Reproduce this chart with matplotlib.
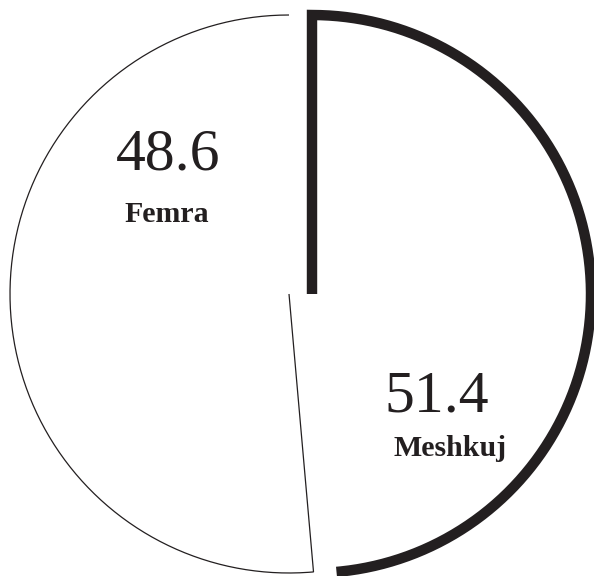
import numpy as np
import matplotlib
matplotlib.use('Agg')
import matplotlib.pyplot as plt
from matplotlib.path import Path
from matplotlib.patches import PathPatch

# Shares (%) and labels
labels = ['Meshkuj', 'Femra']
shares = [51.4, 48.6]
value_text = ['51.4', '48.6']

ink = '#231f20'
W, H = 594, 576

fig = plt.figure(figsize=(W / 100, H / 100), dpi=100)
ax = fig.add_axes([0, 0, 1, 1])
ax.set_xlim(0, W)
ax.set_ylim(0, H)
ax.axis('off')

r = 279

# The drawn wedges follow the source picture: the bold wedge sweeps the
# smaller share clockwise from the top, the thin wedge the rest.
bold_sweep = min(shares) / 100 * 360
thin_sweep = 360 - bold_sweep

# bold wedge: vertical edge + arc, no closing edge
cx, cy = 312, 282
t = np.radians(np.linspace(90, 90 - bold_sweep, 200))
xs = np.concatenate([[cx], cx + r * np.cos(t)])
ys = np.concatenate([[cy], cy + r * np.sin(t)])
ax.add_patch(PathPatch(Path(np.column_stack([xs, ys])), fill=False,
                       lw=7.5, edgecolor=ink, joinstyle='miter', capstyle='butt'))

# thin wedge: arc + closing radial edge
cx, cy = 289, 282
t = np.radians(np.linspace(90, 90 + thin_sweep, 200))
xs = np.concatenate([cx + r * np.cos(t), [cx]])
ys = np.concatenate([cy + r * np.sin(t), [cy]])
ax.add_patch(PathPatch(Path(np.column_stack([xs, ys])), fill=False,
                       lw=0.9, edgecolor=ink, joinstyle='miter', capstyle='butt'))

serif = ['Liberation Serif', 'DejaVu Serif']
# value and name per slice
ax.text(168, H - 170, value_text[1], ha='center', va='baseline',
        fontsize=43, family=serif, color=ink)
ax.text(167, H - 222, labels[1], ha='center', va='baseline',
        fontsize=21.5, family=serif, weight='bold', color=ink)
ax.text(437, H - 412, value_text[0], ha='center', va='baseline',
        fontsize=43, family=serif, color=ink)
ax.text(450, H - 456, labels[0], ha='center', va='baseline',
        fontsize=21.5, family=serif, weight='bold', color=ink)

fig.savefig('out.png', dpi=100, facecolor='white')
